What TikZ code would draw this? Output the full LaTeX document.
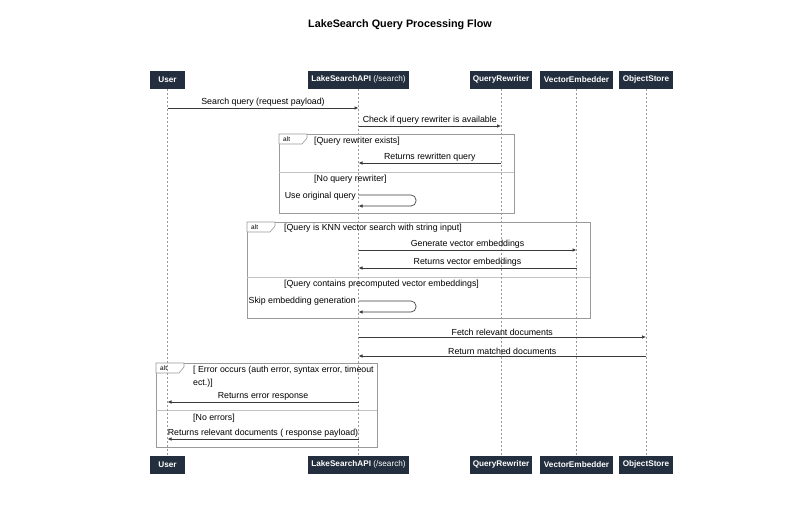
\documentclass[tikz,border=0pt]{standalone}
\usepackage{fontspec}
\setmainfont{Liberation Sans}
\usetikzlibrary{arrows.meta}
\definecolor{boxfill}{HTML}{232F3E}
\definecolor{linegray}{HTML}{9A9A9A}
\definecolor{msgcol}{HTML}{3A3A3A}
\begin{document}
\begin{tikzpicture}[x=1pt,y=-1pt,
  part/.style={fill=boxfill, text=white, font=\fontsize{8.2}{9}\selectfont\bfseries, minimum height=18pt, inner sep=2pt},
  life/.style={draw=linegray, dash pattern=on 2pt off 2pt, line width=0.6pt},
  msg/.style={draw=msgcol, line width=0.65pt, -{Latex[length=4pt,width=3.5pt]}},
  lbl/.style={font=\fontsize{8.8}{10}\selectfont, text=black, inner sep=1pt},
  guard/.style={font=\fontsize{8.8}{12.5}\selectfont, text=black, inner sep=1pt, anchor=west, align=left},
  frame/.style={draw=linegray, line width=0.6pt},
  divider/.style={draw=linegray!60, line width=0.6pt},
  tagtext/.style={font=\fontsize{6.5}{7}\selectfont, text=black, inner sep=0pt, anchor=west},
]
\useasboundingbox (0,0) rectangle (800,525);

\node[font=\fontsize{10.8}{12}\selectfont\bfseries] (title) at (400,25) {LakeSearch Query Processing Flow};

% participants top
\node[part, minimum width=35pt] (userT) at (167.5,79.5) {User};
\node[part, minimum width=101pt] (apiT) at (358.5,79.5) {LakeSearchAPI \mdseries(/search)};
\node[part, minimum width=62pt] (qrT) at (501,79.5) {QueryRewriter};
\node[part, minimum width=73pt] (veT) at (576.5,79.5) {VectorEmbedder};
\node[part, minimum width=54pt] (osT) at (646,79.5) {ObjectStore};
% participants bottom
\node[part, minimum width=35pt] (userB) at (167.5,464.5) {User};
\node[part, minimum width=101pt] (apiB) at (358.5,464.5) {LakeSearchAPI \mdseries(/search)};
\node[part, minimum width=62pt] (qrB) at (501,464.5) {QueryRewriter};
\node[part, minimum width=73pt] (veB) at (576.5,464.5) {VectorEmbedder};
\node[part, minimum width=54pt] (osB) at (646,464.5) {ObjectStore};

% frames
\draw[frame] (279,134) rectangle (514,213);
\draw[divider] (279,172) -- (514,172);
\draw[frame, fill=white] (279,134) -- ++(28,0) -- ++(0,4) -- ++(-5,6) -- (279,144) -- cycle;
\node[tagtext] (alt1) at (283,139) {alt};

\draw[frame] (247,222) rectangle (590,318);
\draw[divider] (247,277) -- (590,277);
\draw[frame, fill=white] (247,222) -- ++(28,0) -- ++(0,4) -- ++(-5,6) -- (247,232) -- cycle;
\node[tagtext] (alt2) at (251,227) {alt};

\draw[frame] (156,363) rectangle (377,447);
\draw[divider] (156,410) -- (377,410);
\draw[frame, fill=white] (156,363) -- ++(28,0) -- ++(0,4) -- ++(-5,6) -- (156,373) -- cycle;
\node[tagtext] (alt3) at (160,368) {alt};

% lifelines
\draw[life] (userT) -- (userB);
\draw[life] (apiT) -- (apiB);
\draw[life] (qrT) -- (qrB);
\draw[life] (veT) -- (veB);
\draw[life] (osT) -- (osB);

% guards
\node[guard] (g1a) at (313,141) {[Query rewriter exists]};
\node[guard] (g1b) at (313,179) {[No query rewriter]};
\node[guard] (g2a) at (283,228) {[Query is KNN vector search with string input]};
\node[guard] (g2b) at (283,284) {[Query contains precomputed vector embeddings]};
\node[guard] (g3a) at (192,376.5) {[ Error occurs (auth error, syntax error, timeout\\ect.)]};
\node[guard] (g3b) at (192,418) {[No errors]};

% messages
\draw[msg] (userT |- 0,108) -- node[lbl, above=0.5pt] {Search query (request payload)} (apiT |- 0,108);
\draw[msg] (apiT |- 0,126) -- node[lbl, above=0.5pt] {Check if query rewriter is available} (qrT |- 0,126);
\draw[msg] (qrT |- 0,163) -- node[lbl, above=0.5pt] {Returns rewritten query} (apiT |- 0,163);
\draw[msg, rounded corners=5pt] (apiT |- 0,195) -| (416,206) -- (apiT |- 0,206);
\node[lbl, anchor=east] (self1) at (357,196) {Use original query};

\draw[msg] (apiT |- 0,250) -- node[lbl, above=0.5pt] {Generate vector embeddings} (veT |- 0,250);
\draw[msg] (veT |- 0,268) -- node[lbl, above=0.5pt] {Returns vector embeddings} (apiT |- 0,268);
\draw[msg, rounded corners=5pt] (apiT |- 0,301) -| (416,312) -- (apiT |- 0,312);
\node[lbl, anchor=east] (self2) at (357,301) {Skip embedding generation};

\draw[msg] (apiT |- 0,337) -- node[lbl, above=0.5pt] {Fetch relevant documents} (osT |- 0,337);
\draw[msg] (osT |- 0,356) -- node[lbl, above=0.5pt] {Return matched documents} (apiT |- 0,356);

\draw[msg] (apiT |- 0,402) -- node[lbl, above=0.5pt] {Returns error response} (userT |- 0,402);
\draw[msg] (apiT |- 0,439) -- node[lbl, above=0.5pt] {Returns relevant documents ( response payload)} (userT |- 0,439);
\end{tikzpicture}
\end{document}
